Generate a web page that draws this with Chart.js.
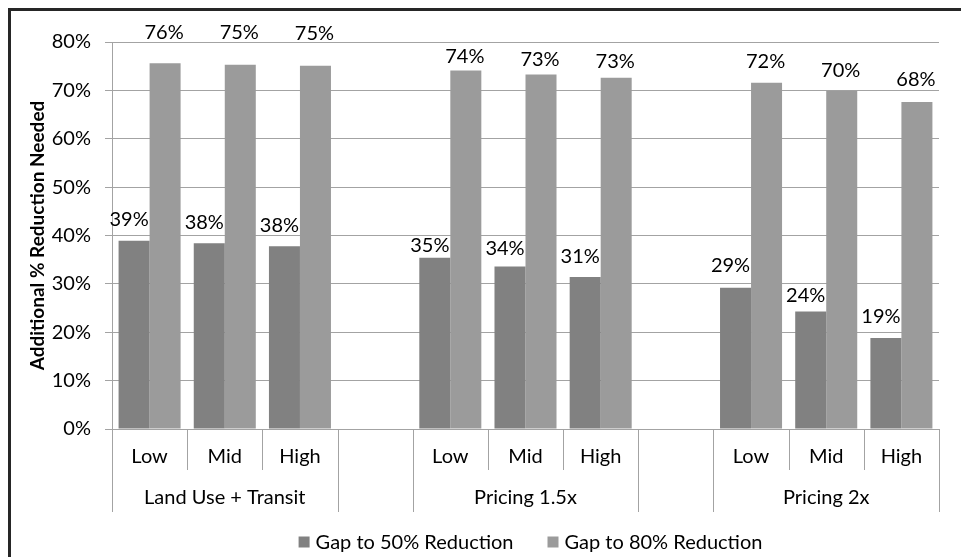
<!DOCTYPE html>
<html>
<head>
<meta charset="utf-8">
<script src="https://cdn.jsdelivr.net/npm/chart.js@4.4.1/dist/chart.umd.min.js"></script>
<style>
  html, body { margin: 0; padding: 0; background: #fff; overflow: hidden; }
  #wrap { position: relative; width: 961px; height: 557px; }
  #frame {
    position: absolute; left: 8px; top: 8px; width: 1200px; height: 800px;
    border-left: 3px solid #262626; border-top: 3px solid #262626;
    box-sizing: border-box; pointer-events: none;
  }
  canvas { position: absolute; left: 0; top: 0; }
</style>
</head>
<body>
<div id="wrap">
  <canvas id="chart" width="961" height="557"></canvas>
  <div id="frame"></div>
</div>
<script>
// ── Data ─────────────────────────────────────
const CATEGORIES  = ['Low', 'Mid', 'High', '', 'Low', 'Mid', 'High', '', 'Low', 'Mid', 'High'];
const GROUPS      = ['Land Use + Transit', '', 'Pricing 1.5x', '', 'Pricing 2x'];
const GROUP_SIZES = [3, 1, 3, 1, 3];
const SERIES      = ['Gap to 50% Reduction', 'Gap to 80% Reduction'];
const GAP_50      = [38.9, 38.4, 37.8, null, 35.4, 33.6, 31.4, null, 29.2, 24.3, 18.8];
const GAP_80      = [75.6, 75.3, 75.1, null, 74.1, 73.3, 72.6, null, 71.6, 69.9, 67.6];
const Y_TICKS     = [0, 10, 20, 30, 40, 50, 60, 70, 80];

// label lift above bar top (px) – the original labels were nudged by hand
const LIFT_50 = [21, 21, 21, 0, 12, 18, 21, 0, 22, 16, 22];
const LIFT_80 = [31, 32, 32, 0, 14, 15, 16, 0, 21, 20, 22];

const FONT   = 'Lato, "Open Sans", sans-serif';
const FSIZE  = 20;
const COLORS = ['#818181', '#9b9b9b'];
const LINE   = '#a3a3a3';

Chart.defaults.font.family = FONT;
Chart.defaults.color = '#000';

// ── Two-level category axis + legend below the plot ──
const groupAxis = {
  id: 'groupAxis',
  afterDraw(chart) {
    const { ctx, chartArea: area } = chart;
    const x = chart.scales.x;
    const n = CATEGORIES.length;
    const step = x.getPixelForValue(1) - x.getPixelForValue(0);
    const edge = i => x.getPixelForValue(i) - step / 2;

    const bounds = [0];
    GROUP_SIZES.forEach(s => bounds.push(bounds[bounds.length - 1] + s));

    ctx.save();
    ctx.strokeStyle = LINE;
    ctx.lineWidth = 1;
    for (let i = 0; i <= n; i++) {
      const px = Math.round(edge(i)) + 0.5;
      const y2 = bounds.includes(i) ? area.bottom + 83 : area.bottom + 41;
      ctx.beginPath();
      ctx.moveTo(px, area.bottom);
      ctx.lineTo(px, y2);
      ctx.stroke();
    }

    ctx.fillStyle = '#000';
    ctx.font = `${FSIZE}px ${FONT}`;
    ctx.textAlign = 'center';
    ctx.textBaseline = 'middle';
    CATEGORIES.forEach((c, i) => {
      ctx.fillText(c, x.getPixelForValue(i), area.bottom + 28);
    });
    GROUPS.forEach((g, gi) => {
      const mid = (edge(bounds[gi]) + edge(bounds[gi + 1])) / 2;
      ctx.fillText(g, mid, area.bottom + 69);
    });

    // legend
    const box = 11, gapBox = 6, gapItem = 34;
    const widths = SERIES.map(s => ctx.measureText(s).width);
    const total = widths.reduce((a, w) => a + box + gapBox + w, 0) + gapItem;
    let lx = (area.left + area.right) / 2 + 5 - total / 2;
    const ly = area.bottom + 113;
    ctx.textAlign = 'left';
    SERIES.forEach((s, i) => {
      ctx.fillStyle = COLORS[i];
      ctx.fillRect(lx, ly - box / 2, box, box);
      ctx.fillStyle = '#000';
      ctx.fillText(s, lx + box + gapBox, ly + 1);
      lx += box + gapBox + widths[i] + gapItem;
    });
    ctx.restore();
  }
};

// ── Data labels ──────────────────────────────
const barLabels = {
  id: 'barLabels',
  afterDatasetsDraw(chart) {
    const { ctx } = chart;
    ctx.save();
    ctx.fillStyle = '#000';
    ctx.font = `${FSIZE}px ${FONT}`;
    ctx.textAlign = 'center';
    ctx.textBaseline = 'middle';
    chart.data.datasets.forEach((ds, di) => {
      const meta = chart.getDatasetMeta(di);
      const lift = di === 0 ? LIFT_50 : LIFT_80;
      const dx = di === 0 ? -5 : -1;
      meta.data.forEach((bar, i) => {
        const v = ds.data[i];
        if (v == null) return;
        ctx.fillText(Math.round(v) + '%', bar.x + dx, bar.y - lift[i]);
      });
    });
    ctx.restore();
  }
};

new Chart(document.getElementById('chart'), {
  type: 'bar',
  data: {
    labels: CATEGORIES,
    datasets: [
      { label: SERIES[0], data: GAP_50, backgroundColor: COLORS[0] },
      { label: SERIES[1], data: GAP_80, backgroundColor: COLORS[1] }
    ]
  },
  options: {
    responsive: false,
    animation: false,
    categoryPercentage: 0.825,
    barPercentage: 1,
    layout: { padding: { left: 0, top: 42, right: 22, bottom: 128 } },
    plugins: {
      legend: { display: false },
      tooltip: { enabled: false }
    },
    scales: {
      x: { display: false },
      y: {
        min: 0,
        max: 80,
        afterBuildTicks(s) { s.ticks = Y_TICKS.map(v => ({ value: v })); },
        afterFit(s) { s.width = 112; },
        ticks: {
          callback: v => v + '%',
          color: '#000',
          font: { size: FSIZE },
          padding: 14
        },
        grid: { color: LINE, lineWidth: 1, tickLength: 7, drawTicks: true },
        border: { display: true, color: LINE },
        title: {
          display: true,
          text: 'Additional % Reduction Needed',
          color: '#000',
          font: { size: 19, weight: 'bold' },
          padding: { top: 26, bottom: 0 }
        }
      }
    }
  },
  plugins: [groupAxis, barLabels]
});
</script>
</body>
</html>
